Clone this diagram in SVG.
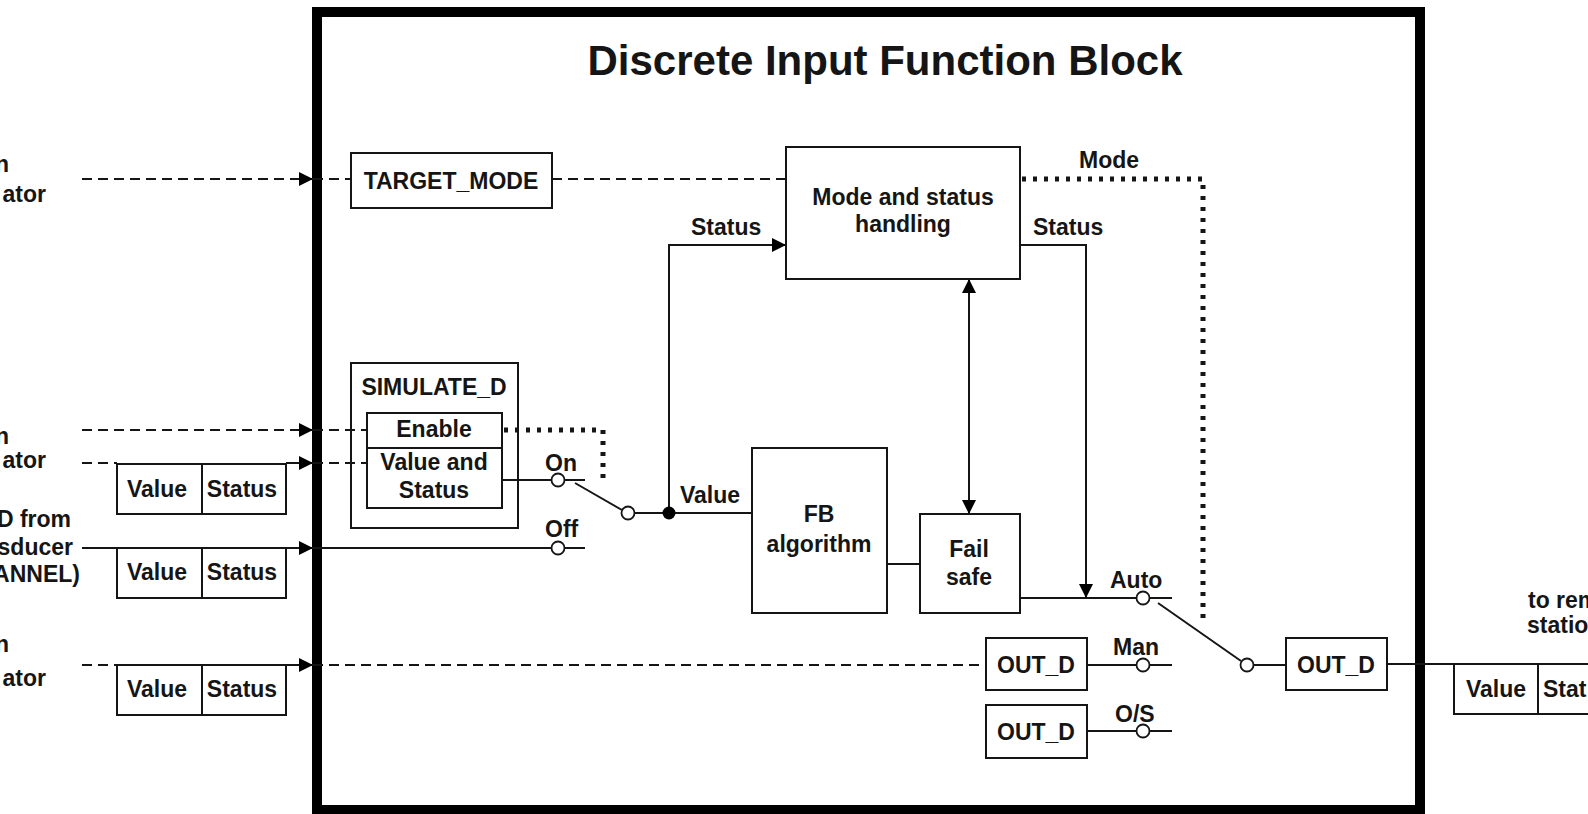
<svg xmlns="http://www.w3.org/2000/svg" width="1588" height="814" viewBox="0 0 1588 814">
<style>
.t{font-family:"Liberation Sans",Arial,sans-serif;font-weight:bold;font-size:23px;fill:#151515}
.c{text-anchor:middle}
.e{text-anchor:end}
.box{fill:#fff;stroke:#151515;stroke-width:2}
.ln{fill:none;stroke:#151515;stroke-width:2}
.dash{stroke-dasharray:10 6}
.dot{stroke-width:5;stroke-dasharray:4 7}
.sw{fill:#fff;stroke:#151515;stroke-width:1.8}
.frame{fill:none;stroke:#000;stroke-width:10}
</style>
<defs>
<marker id="arr" viewBox="0 0 14 14" refX="14" refY="7" markerWidth="14" markerHeight="14" markerUnits="userSpaceOnUse" orient="auto">
<path d="M0,0 L14,7 L0,14 z" fill="#000"/>
</marker>
<marker id="arrs" viewBox="0 0 14 14" refX="0" refY="7" markerWidth="14" markerHeight="14" markerUnits="userSpaceOnUse" orient="auto">
<path d="M14,0 L0,7 L14,14 z" fill="#000"/>
</marker>
</defs>
<rect width="1588" height="814" fill="#fff"/>

<g id="frame">
<rect class="frame" x="317" y="12" width="1103" height="798"/>
<text class="t c" x="885" y="75" style="font-size:42px">Discrete Input Function Block</text>
</g>

<g id="ext-labels">
<text class="t e" x="9" y="172">n</text>
<text class="t e" x="46" y="202">ator</text>
<text class="t e" x="9" y="444">n</text>
<text class="t e" x="46" y="468">ator</text>
<text class="t e" x="71" y="527">D from</text>
<text class="t e" x="73" y="555">sducer</text>
<text class="t e" x="80" y="582">ANNEL)</text>
<text class="t e" x="9" y="652">n</text>
<text class="t e" x="46" y="686">ator</text>
<text class="t" x="1528" y="608">to rem</text>
<text class="t" x="1527" y="633">statio</text>
</g>

<g id="simulate-d-frame">
<rect x="351" y="363" width="167" height="165" fill="none" stroke="#151515" stroke-width="2"/>
</g>

<g id="connectors">
<line class="ln dash" x1="82" y1="179" x2="313" y2="179" marker-end="url(#arr)"/>
<line class="ln dash" x1="313" y1="179" x2="351" y2="179"/>
<line class="ln dash" x1="82" y1="430" x2="313" y2="430" marker-end="url(#arr)"/>
<line class="ln dash" x1="313" y1="430" x2="367" y2="430"/>
<line class="ln dash" x1="82" y1="463" x2="117" y2="463"/>
<line class="ln" x1="286" y1="463" x2="313" y2="463" marker-end="url(#arr)"/>
<line class="ln dash" x1="313" y1="463" x2="367" y2="463"/>
<line class="ln" x1="82" y1="548" x2="313" y2="548" marker-end="url(#arr)"/>
<line class="ln" x1="313" y1="548" x2="551" y2="548"/>
<line class="ln dash" x1="82" y1="665" x2="117" y2="665"/>
<line class="ln" x1="286" y1="665" x2="313" y2="665" marker-end="url(#arr)"/>
<line class="ln dash" x1="313" y1="665" x2="986" y2="665"/>
<line class="ln dash" x1="552" y1="179" x2="786" y2="179"/>
<polyline class="ln dot" points="1022,179 1203,179 1203,623"/>
<polyline class="ln dot" points="504,430 603,430 603,485"/>
<line class="ln" x1="502" y1="480" x2="551" y2="480"/>
<line class="ln" x1="565" y1="480" x2="585" y2="480"/>
<line class="ln" x1="565" y1="548" x2="585" y2="548"/>
<line class="ln" x1="575" y1="483" x2="622" y2="510"/>
<line class="ln" x1="635" y1="513" x2="752" y2="513"/>
<polyline class="ln" points="669,513 669,245 786,245" marker-end="url(#arr)"/>
<polyline class="ln" points="1020,245 1086,245 1086,598" marker-end="url(#arr)"/>
<line class="ln" x1="969" y1="279" x2="969" y2="514" marker-start="url(#arrs)" marker-end="url(#arr)"/>
<line class="ln" x1="887" y1="564" x2="920" y2="564"/>
<line class="ln" x1="1020" y1="598" x2="1136" y2="598"/>
<line class="ln" x1="1150" y1="598" x2="1172" y2="598"/>
<line class="ln" x1="1158" y1="603" x2="1241" y2="661"/>
<line class="ln" x1="1087" y1="665" x2="1136" y2="665"/>
<line class="ln" x1="1150" y1="665" x2="1172" y2="665"/>
<line class="ln" x1="1087" y1="731" x2="1136" y2="731"/>
<line class="ln" x1="1150" y1="731" x2="1172" y2="731"/>
<line class="ln" x1="1254" y1="665" x2="1286" y2="665"/>
<line class="ln" x1="1387" y1="664" x2="1588" y2="664"/>
</g>

<g id="switches">
<circle class="sw" cx="558" cy="480" r="6.5"/>
<circle class="sw" cx="558" cy="548" r="6.5"/>
<circle class="sw" cx="628" cy="513" r="6.5"/>
<circle cx="669" cy="513" r="6.5" fill="#000"/>
<circle class="sw" cx="1143" cy="598" r="6.5"/>
<circle class="sw" cx="1143" cy="665" r="6.5"/>
<circle class="sw" cx="1143" cy="731" r="6.5"/>
<circle class="sw" cx="1247" cy="665" r="6.5"/>
</g>

<g id="conn-labels">
<text class="t" x="545" y="471">On</text>
<text class="t" x="545" y="537">Off</text>
<text class="t" x="680" y="503">Value</text>
<text class="t" x="691" y="235">Status</text>
<text class="t" x="1033" y="235">Status</text>
<text class="t" x="1079" y="168">Mode</text>
<text class="t" x="1110" y="588">Auto</text>
<text class="t" x="1113" y="655">Man</text>
<text class="t" x="1115" y="722">O/S</text>
</g>

<g id="vs-in1">
<rect class="box" x="117" y="464" width="169" height="50"/>
<line class="ln" x1="202" y1="464" x2="202" y2="514"/>
<text class="t c" x="157" y="497">Value</text>
<text class="t c" x="242" y="497">Status</text>
</g>
<g id="vs-in2">
<rect class="box" x="117" y="548" width="169" height="50"/>
<line class="ln" x1="202" y1="548" x2="202" y2="598"/>
<text class="t c" x="157" y="580">Value</text>
<text class="t c" x="242" y="580">Status</text>
</g>
<g id="vs-in3">
<rect class="box" x="117" y="665" width="169" height="50"/>
<line class="ln" x1="202" y1="665" x2="202" y2="715"/>
<text class="t c" x="157" y="697">Value</text>
<text class="t c" x="242" y="697">Status</text>
</g>
<g id="vs-out">
<rect class="box" x="1454" y="664" width="160" height="50"/>
<line class="ln" x1="1538" y1="664" x2="1538" y2="714"/>
<text class="t c" x="1496" y="697">Value</text>
<text class="t" x="1543" y="697">Stat</text>
</g>

<g id="target-mode">
<rect class="box" x="351" y="153" width="201" height="55"/>
<text class="t c" x="451" y="189">TARGET_MODE</text>
</g>

<g id="simulate-d">
<text class="t c" x="434" y="395">SIMULATE_D</text>
<rect class="box" x="367" y="413" width="135" height="35"/>
<text class="t c" x="434" y="437">Enable</text>
<rect class="box" x="367" y="448" width="135" height="60"/>
<text class="t c" x="434" y="470">Value and</text>
<text class="t c" x="434" y="498">Status</text>
</g>

<g id="mode-status">
<rect class="box" x="786" y="147" width="234" height="132"/>
<text class="t c" x="903" y="205">Mode and status</text>
<text class="t c" x="903" y="232">handling</text>
</g>

<g id="fb-algorithm">
<rect class="box" x="752" y="448" width="135" height="165"/>
<text class="t c" x="819" y="522">FB</text>
<text class="t c" x="819" y="552">algorithm</text>
</g>

<g id="fail-safe">
<rect class="box" x="920" y="514" width="100" height="99"/>
<text class="t c" x="969" y="557">Fail</text>
<text class="t c" x="969" y="585">safe</text>
</g>

<g id="out-d-man">
<rect class="box" x="986" y="638" width="101" height="52"/>
<text class="t c" x="1036" y="673">OUT_D</text>
</g>
<g id="out-d-os">
<rect class="box" x="986" y="705" width="101" height="53"/>
<text class="t c" x="1036" y="740">OUT_D</text>
</g>
<g id="out-d">
<rect class="box" x="1286" y="638" width="101" height="52"/>
<text class="t c" x="1336" y="673">OUT_D</text>
</g>
</svg>
